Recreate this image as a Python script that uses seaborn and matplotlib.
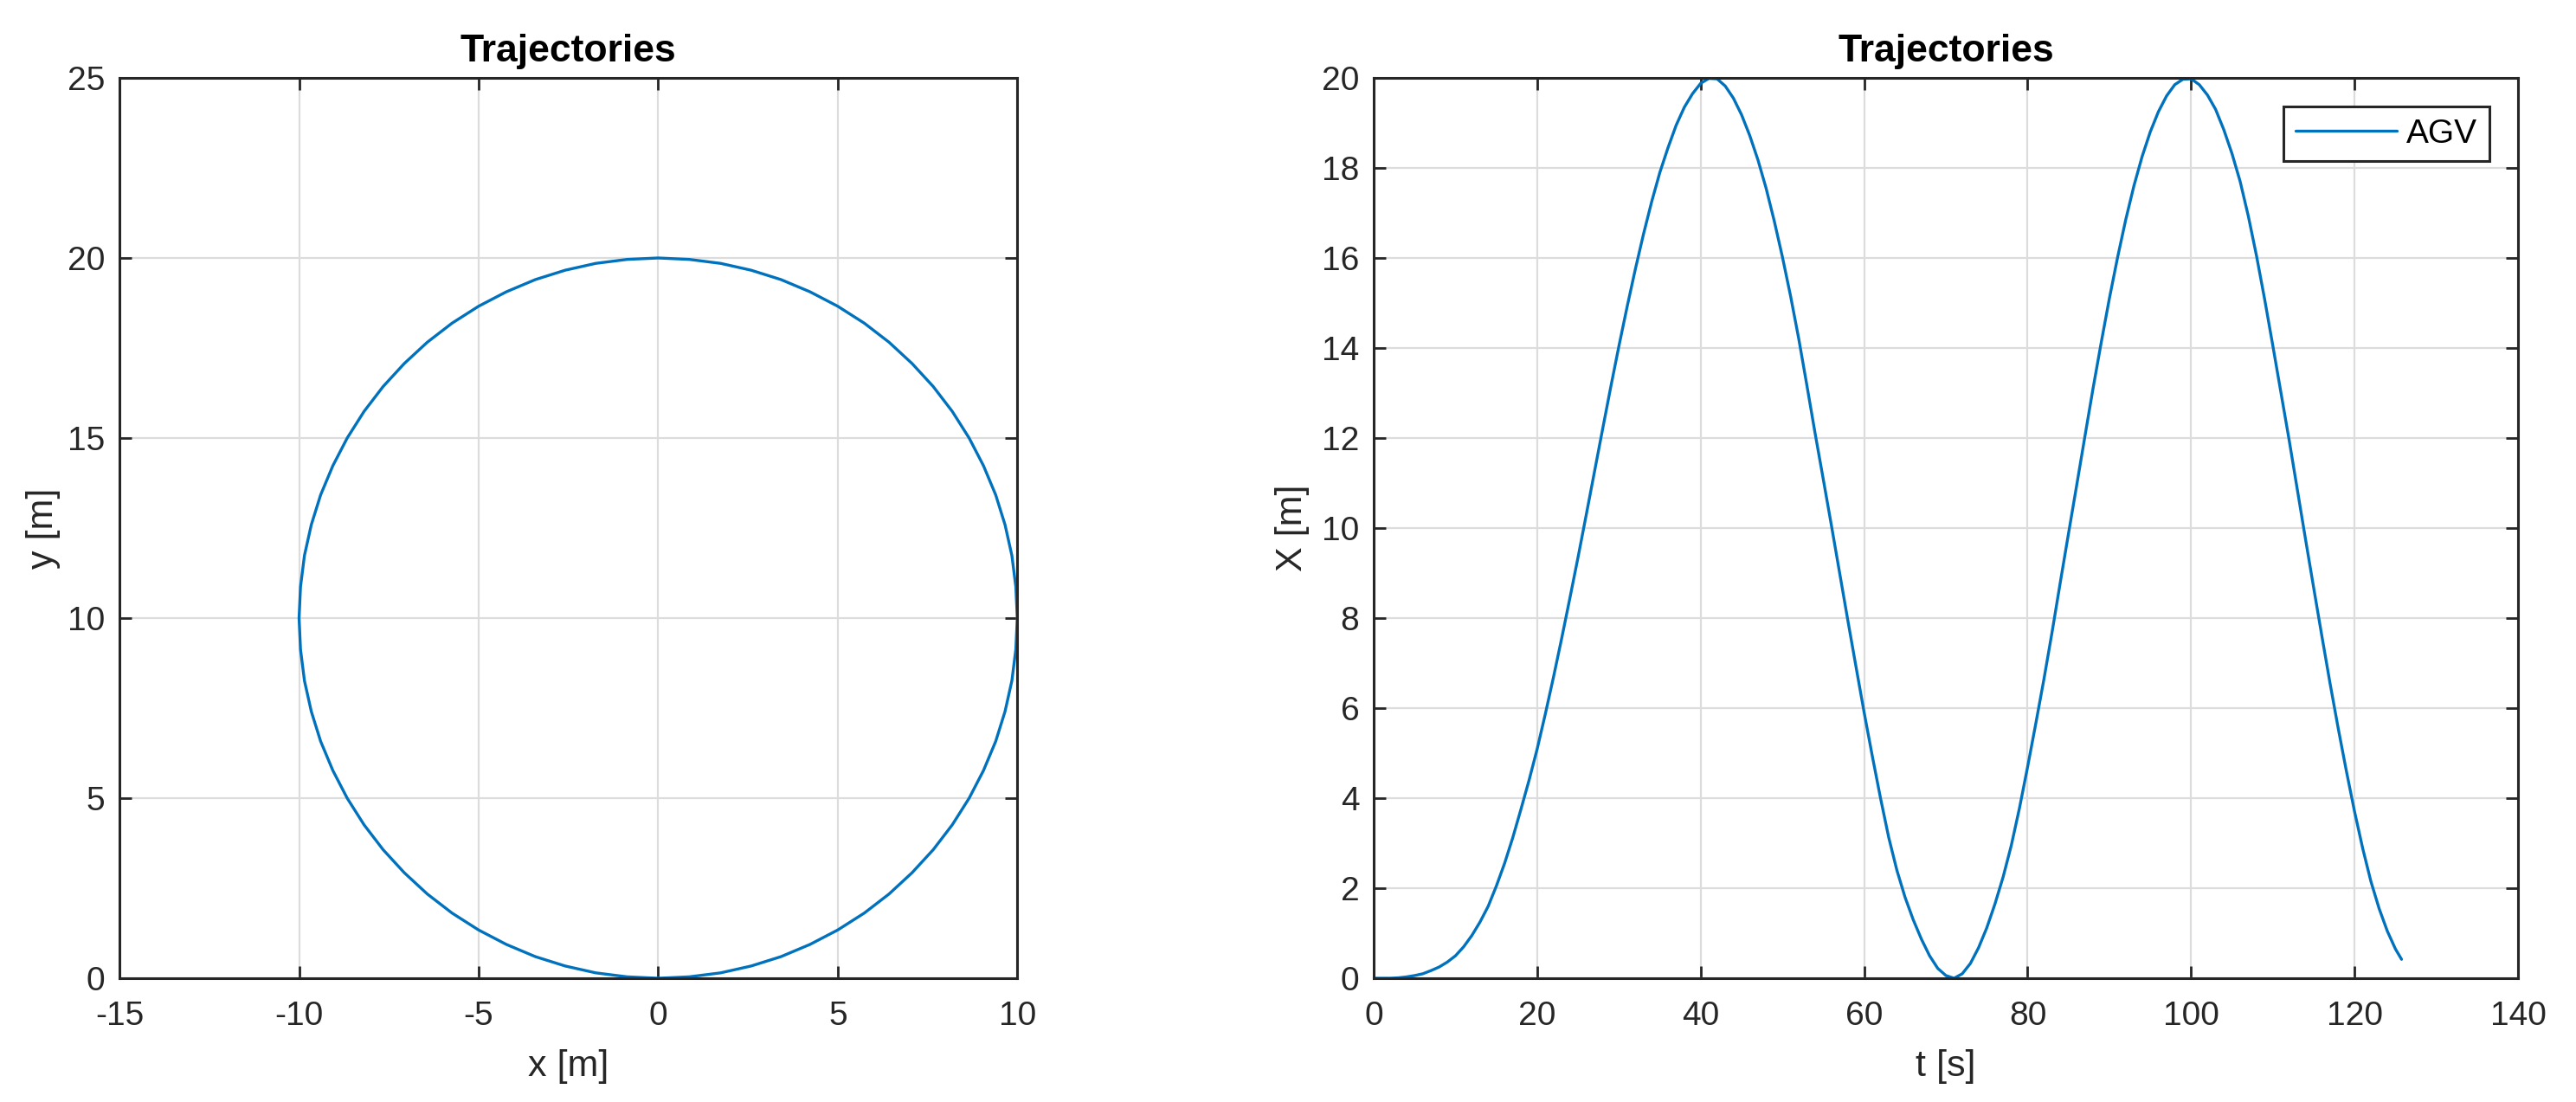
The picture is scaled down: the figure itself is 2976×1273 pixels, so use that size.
import pandas as pd
import matplotlib
matplotlib.use("Agg")
import matplotlib.pyplot as plt
import seaborn as sns

# left plot: trajectory in the plane (one loop)
circle_x = [0, 0.87, 1.74, 2.59, 3.42, 4.23, 5.00, 5.74, 6.43, 7.07, 7.66, 8.19, 8.66, 9.06, 9.40, 9.66, 9.85, 9.96, 10.00,
            9.96, 9.85, 9.66, 9.40, 9.06, 8.66, 8.19, 7.66, 7.07, 6.43, 5.74, 5.00, 4.23, 3.42, 2.59, 1.74, 0.87, 0,
            -0.87, -1.74, -2.59, -3.42, -4.23, -5.00, -5.74, -6.43, -7.07, -7.66, -8.19, -8.66, -9.06, -9.40, -9.66, -9.85, -9.96, -10.00,
            -9.96, -9.85, -9.66, -9.40, -9.06, -8.66, -8.19, -7.66, -7.07, -6.43, -5.74, -5.00, -4.23, -3.42, -2.59, -1.74, -0.87, 0]
circle_y = [0, 0.04, 0.15, 0.34, 0.60, 0.94, 1.34, 1.81, 2.34, 2.93, 3.57, 4.26, 5.00, 5.77, 6.58, 7.41, 8.26, 9.13, 10.00,
            10.87, 11.74, 12.59, 13.42, 14.23, 15.00, 15.74, 16.43, 17.07, 17.66, 18.19, 18.66, 19.06, 19.40, 19.66, 19.85, 19.96, 20.00,
            19.96, 19.85, 19.66, 19.40, 19.06, 18.66, 18.19, 17.66, 17.07, 16.43, 15.74, 15.00, 14.23, 13.42, 12.59, 11.74, 10.87, 10.00,
            9.13, 8.26, 7.41, 6.58, 5.77, 5.00, 4.26, 3.57, 2.93, 2.34, 1.81, 1.34, 0.94, 0.60, 0.34, 0.15, 0.04, 0]

# right plot: X over time, one reading per second
t_s = [0, 1, 2, 3, 4, 5, 6, 7, 8, 9, 10, 11, 12, 13, 14, 15, 16, 17, 18, 19,
       20, 21, 22, 23, 24, 25, 26, 27, 28, 29, 30, 31, 32, 33, 34, 35, 36, 37, 38, 39,
       40, 41, 42, 43, 44, 45, 46, 47, 48, 49, 50, 51, 52, 53, 54, 55, 56, 57, 58, 59,
       60, 61, 62, 63, 64, 65, 66, 67, 68, 69, 70, 71, 72, 73, 74, 75, 76, 77, 78, 79,
       80, 81, 82, 83, 84, 85, 86, 87, 88, 89, 90, 91, 92, 93, 94, 95, 96, 97, 98, 99,
       100, 101, 102, 103, 104, 105, 106, 107, 108, 109, 110, 111, 112, 113, 114, 115, 116, 117, 118, 119,
       120, 121, 122, 123, 124, 125, 125.75]
X_m = [0.00, 0.00, 0.00, 0.01, 0.03, 0.06, 0.10, 0.17, 0.25, 0.36,
       0.50, 0.70, 0.95, 1.25, 1.60, 2.05, 2.55, 3.12, 3.75, 4.40,
       5.10, 5.88, 6.70, 7.56, 8.45, 9.36, 10.30, 11.25, 12.20, 13.14,
       14.05, 14.92, 15.75, 16.53, 17.25, 17.90, 18.45, 18.95, 19.35, 19.65,
       19.88, 19.99, 19.98, 19.82, 19.55, 19.18, 18.72, 18.18, 17.55, 16.82,
       16.02, 15.15, 14.20, 13.16, 12.10, 11.08, 10.05, 9.00, 7.95, 6.92,
       5.90, 4.93, 4.00, 3.13, 2.40, 1.80, 1.30, 0.87, 0.50, 0.22,
       0.06, 0.00, 0.10, 0.33, 0.68, 1.12, 1.65, 2.25, 2.95, 3.78,
       4.70, 5.66, 6.65, 7.70, 8.80, 9.88, 10.95, 12.03, 13.10, 14.12,
       15.10, 16.01, 16.85, 17.60, 18.25, 18.80, 19.25, 19.60, 19.85, 19.97,
       19.98, 19.85, 19.62, 19.30, 18.85, 18.32, 17.70, 16.93, 16.05, 15.08,
       14.05, 13.00, 11.95, 10.85, 9.75, 8.67, 7.60, 6.55, 5.55, 4.60,
       3.70, 2.88, 2.15, 1.55, 1.05, 0.65, 0.42]

xy_ticks = [-15, -10, -5, 0, 5, 10]
y_ticks = [0, 5, 10, 15, 20, 25]
t_ticks = [0, 20, 40, 60, 80, 100, 120, 140]
X_ticks = [0, 2, 4, 6, 8, 10, 12, 14, 16, 18, 20]

line_color = "#0072BD"
ink = "#262626"

sns.set_theme(style="ticks")
plt.rcParams["font.family"] = ["Liberation Sans", "DejaVu Sans"]
plt.rcParams["axes.unicode_minus"] = False

traj = pd.DataFrame({"x": circle_x, "y": circle_y})
state = pd.DataFrame({"t": t_s, "X": X_m})

fig = plt.figure(figsize=(14.88, 6.365), dpi=200)
ax1 = fig.add_axes([0.0464, 0.1123, 0.3485, 0.8170])
ax2 = fig.add_axes([0.5333, 0.1123, 0.4442, 0.8170])

sns.lineplot(data=traj, x="x", y="y", sort=False, estimator=None, ax=ax1,
             color=line_color, linewidth=1.2)
sns.lineplot(data=state, x="t", y="X", sort=False, estimator=None, ax=ax2,
             color=line_color, linewidth=1.2, label="AGV")


def style_axes(ax, xt, yt, xlabel, ylabel, ylabelpad):
    ax.set_xlim(xt[0], xt[-1])
    ax.set_ylim(yt[0], yt[-1])
    ax.set_xticks(xt)
    ax.set_yticks(yt)
    ax.grid(True, color="#dcdcdc", linewidth=0.8)
    ax.set_axisbelow(True)
    for s in ax.spines.values():
        s.set_visible(True)
        s.set_color(ink)
        s.set_linewidth(1.1)
    ax.tick_params(direction="in", top=True, right=True, length=5, width=1.0,
                   color=ink, labelcolor=ink, labelsize=14)
    ax.tick_params(axis="x", pad=9.5)
    ax.tick_params(axis="y", pad=6)
    ax.set_xlabel(xlabel, fontsize=15.5, color=ink, labelpad=7)
    ax.set_ylabel(ylabel, fontsize=15.5, color=ink, labelpad=ylabelpad)
    ax.set_title("Trajectories", fontsize=16, fontweight="bold", color="black", pad=6.8)


style_axes(ax1, xy_ticks, y_ticks, "x [m]", "y [m]", 3)
style_axes(ax2, t_ticks, X_ticks, "t [s]", "X [m]", 5)

leg = ax2.legend(loc="upper right", frameon=True, fancybox=False, framealpha=1,
                 edgecolor=ink, fontsize=14, handlelength=3.0, handletextpad=0.3,
                 borderpad=0.35, borderaxespad=0.85)
leg.get_frame().set_linewidth(1.1)
for txt in leg.get_texts():
    txt.set_color("black")

fig.savefig("out.png", dpi=200)
plt.close(fig)
